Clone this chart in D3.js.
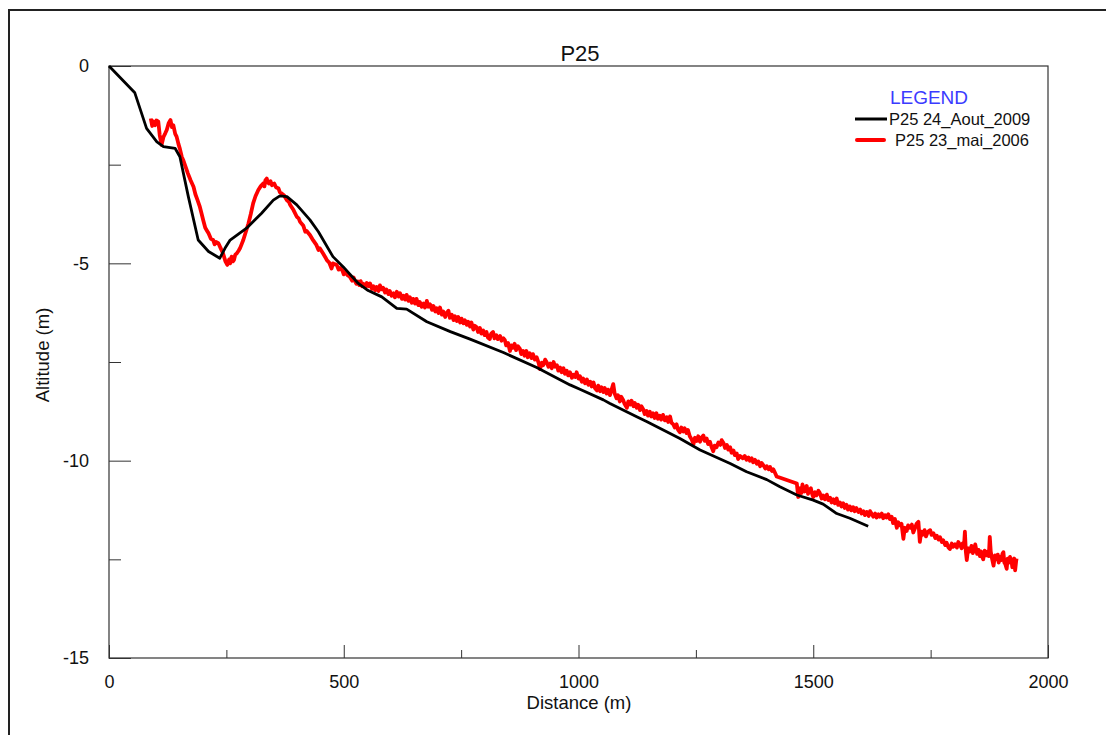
<!DOCTYPE html>
<html>
<head>
<meta charset="utf-8">
<script src="https://cdn.jsdelivr.net/npm/d3@7/dist/d3.min.js"></script>
<style>
  html, body { margin: 0; padding: 0; background: #fff; }
  svg { display: block; font-family: "Liberation Sans", Arial, sans-serif; }
</style>
</head>
<body>
<svg id="chart" width="1106" height="735"></svg>
<script>
// ---- Data ----
const chartTitle = "P25";
const xLabel = "Distance (m)";
const yLabel = "Altitude (m)";
const legendTitle = "LEGEND";
const xTicks = [0, 500, 1000, 1500, 2000];
const xMinorTicks = [250, 750, 1250, 1750];
const yTicks = [0, -5, -10, -15];
const yMinorTicks = [-2.5, -7.5, -12.5];
const seriesNames = ["P25 24_Aout_2009", "P25 23_mai_2006"];

// P25 24_Aout_2009 : [distance, altitude]
const aout2009 = [
  [0, 0], [55, -0.68], [80, -1.58], [102, -1.92], [116, -2.04], [141, -2.09],
  [151, -2.30], [169, -3.31], [190, -4.41], [212, -4.70], [236, -4.87],
  [247, -4.62], [258, -4.41], [293, -4.11], [325, -3.73], [350, -3.40],
  [364, -3.29], [379, -3.31], [400, -3.52], [428, -3.90], [446, -4.20],
  [477, -4.83], [499, -5.09], [531, -5.51], [552, -5.69], [581, -5.85],
  [613, -6.14], [634, -6.16], [677, -6.48], [727, -6.73], [769, -6.92],
  [840, -7.26], [911, -7.64], [982, -8.08], [1003, -8.19], [1053, -8.46],
  [1067, -8.55], [1124, -8.89], [1145, -9.01], [1216, -9.44], [1259, -9.73],
  [1323, -10.07], [1358, -10.28], [1401, -10.48], [1429, -10.66], [1465, -10.87],
  [1500, -11.0], [1521, -11.10], [1550, -11.34], [1578, -11.46], [1617, -11.66]
];

// P25 23_mai_2006 : [distance, altitude]
const mai2006 = [
  [89, -1.33], [92, -1.52], [94, -1.40], [98, -1.50], [101, -1.38], [105, -1.41], [108, -1.75],
  [112, -2.00], [116, -1.80], [120, -1.70], [123, -1.62], [127, -1.45], [131, -1.37], [134, -1.55],
  [137, -1.50], [141, -1.72], [144, -1.79], [148, -1.98], [151, -2.10], [155, -2.30], [158, -2.38],
  [163, -2.55], [168, -2.72], [174, -2.90], [180, -3.06], [184, -3.25], [188, -3.38], [193, -3.55],
  [197, -3.73], [201, -3.92], [205, -4.10], [209, -4.18], [212, -4.24], [217, -4.38],
  [222, -4.41], [225, -4.52], [228, -4.46], [233, -4.49], [238, -4.62], [243, -4.75], [248, -4.95],
  [252, -5.04], [256, -4.90], [258, -5.00], [261, -4.83], [264, -4.95], [266, -4.92], [269, -4.78],
  [272, -4.75], [276, -4.68], [279, -4.62], [283, -4.50], [286, -4.41], [291, -4.22], [297, -3.99],
  [302, -3.75], [307, -3.48], [312, -3.30], [318, -3.14], [323, -3.05], [329, -2.97], [331, -3.05],
  [333, -2.90], [336, -2.85], [338, -2.95], [341, -2.98], [344, -2.92], [347, -3.02], [352, -2.98],
  [356, -3.08], [361, -3.10], [364, -3.20], [367, -3.22], [373, -3.28], [379, -3.40], [383, -3.44],
  [386, -3.52], [393, -3.65], [400, -3.82], [404, -3.86], [407, -3.95], [414, -4.05], [418, -4.20],
  [421, -4.18], [428, -4.28], [435, -4.42], [442, -4.54], [446, -4.66], [449, -4.62], [456, -4.75],
  [461, -4.85], [464, -4.92], [469, -4.98], [474, -5.13], [477, -5.00], [480, -5.02],
  [485, -5.04], [489, -5.16], [492, -5.12], [497, -5.18], [500, -5.28], [503, -5.22], [508, -5.30],
  [513, -5.34], [518, -5.44], [521, -5.36], [524, -5.45], [527, -5.52], [530, -5.46], [533, -5.55],
  [536, -5.45], [539, -5.58], [542, -5.52], [546, -5.60], [549, -5.50], [553, -5.58],
  [556, -5.51], [560, -5.65], [563, -5.58], [567, -5.68], [570, -5.60], [574, -5.70], [577, -5.56],
  [581, -5.66], [584, -5.62], [588, -5.74], [591, -5.66], [595, -5.78], [598, -5.70], [602, -5.82],
  [606, -5.76], [609, -5.86], [613, -5.72], [617, -5.84], [620, -5.76], [624, -5.90], [627, -5.82],
  [631, -5.92], [634, -5.80], [638, -5.95], [641, -5.86], [645, -6.00], [648, -5.90], [652, -6.02],
  [655, -5.90], [659, -6.06], [662, -5.98], [666, -6.10], [670, -6.02], [673, -6.12], [677, -5.95],
  [680, -6.10], [684, -6.04], [688, -6.18], [691, -6.08], [695, -6.22], [698, -6.14], [702, -6.26],
  [705, -6.12], [709, -6.30], [712, -6.22], [716, -6.36], [719, -6.26], [723, -6.20], [726, -6.38],
  [730, -6.30], [734, -6.44], [737, -6.34], [741, -6.46], [744, -6.36], [748, -6.50], [751, -6.40],
  [755, -6.52], [758, -6.44], [762, -6.56], [765, -6.48], [769, -6.60], [772, -6.50], [776, -6.68],
  [779, -6.58], [783, -6.62], [786, -6.74], [790, -6.64], [793, -6.78], [797, -6.70], [800, -6.82],
  [804, -6.74], [807, -6.88], [811, -6.92], [814, -6.78], [818, -6.74], [821, -6.90], [825, -6.82],
  [828, -6.92], [833, -6.84], [836, -6.96], [840, -6.90], [843, -6.94], [846, -7.08], [850, -7.02],
  [854, -7.22], [857, -7.08], [860, -7.14], [864, -7.04], [867, -7.20], [871, -7.10], [875, -7.16],
  [878, -7.30], [882, -7.22], [885, -7.34], [889, -7.22], [892, -7.38], [896, -7.28], [900, -7.40],
  [903, -7.30], [907, -7.44], [911, -7.38], [915, -7.52], [918, -7.68], [922, -7.52], [925, -7.58],
  [929, -7.44], [932, -7.50], [936, -7.62], [940, -7.54], [943, -7.66], [947, -7.50], [950, -7.62],
  [954, -7.58], [957, -7.72], [961, -7.64], [964, -7.76], [968, -7.66], [971, -7.80], [975, -7.72],
  [978, -7.84], [982, -7.76], [986, -7.90], [989, -7.82], [993, -7.88], [996, -7.76], [1000, -7.92],
  [1003, -7.86], [1007, -8.00], [1010, -7.92], [1014, -8.04], [1018, -7.94], [1021, -8.08],
  [1025, -8.00], [1028, -8.12], [1032, -8.02], [1035, -8.16], [1039, -8.22], [1042, -8.10],
  [1046, -8.24], [1049, -8.14], [1053, -8.26], [1056, -8.16], [1060, -8.30], [1063, -8.20],
  [1067, -8.34], [1070, -8.22], [1074, -8.06], [1077, -8.30], [1081, -8.42], [1084, -8.34],
  [1088, -8.50], [1091, -8.38], [1095, -8.46], [1098, -8.56], [1103, -8.66], [1106, -8.50],
  [1110, -8.58], [1113, -8.48], [1117, -8.62], [1120, -8.54], [1124, -8.66], [1127, -8.58],
  [1131, -8.72], [1134, -8.62], [1138, -8.70], [1141, -8.82], [1145, -8.74], [1148, -8.86],
  [1152, -8.76], [1155, -8.88], [1159, -8.80], [1162, -8.92], [1166, -8.80], [1169, -8.94],
  [1173, -8.86], [1176, -8.96], [1180, -8.84], [1184, -8.98], [1188, -8.90], [1191, -9.02],
  [1195, -8.88], [1198, -9.04], [1202, -9.08], [1205, -9.16], [1209, -9.08], [1212, -9.22],
  [1216, -9.28], [1219, -9.16], [1223, -9.26], [1226, -9.18], [1230, -9.30], [1233, -9.22],
  [1237, -9.38], [1241, -9.46], [1245, -9.58], [1248, -9.42], [1252, -9.50], [1255, -9.38],
  [1259, -9.52], [1262, -9.42], [1266, -9.36], [1269, -9.50], [1273, -9.44], [1276, -9.58],
  [1280, -9.52], [1283, -9.64], [1287, -9.76], [1290, -9.62], [1294, -9.66], [1298, -9.54],
  [1302, -9.60], [1305, -9.48], [1309, -9.56], [1312, -9.68], [1316, -9.60], [1319, -9.72],
  [1323, -9.66], [1326, -9.80], [1330, -9.74], [1333, -9.86], [1337, -9.82], [1340, -9.96],
  [1344, -9.88], [1350, -9.94], [1354, -9.88], [1358, -9.98], [1362, -9.92], [1365, -10.00],
  [1369, -9.94], [1372, -10.04], [1376, -9.98], [1380, -10.08], [1383, -10.02], [1387, -10.14],
  [1390, -10.06], [1394, -10.12], [1398, -10.20], [1401, -10.14], [1405, -10.22], [1408, -10.16],
  [1412, -10.26], [1415, -10.22], [1419, -10.32], [1422, -10.40], [1465, -10.58],
  [1468, -10.92], [1472, -10.70], [1475, -10.82], [1477, -10.60], [1480, -10.74], [1482, -10.78],
  [1486, -10.64], [1489, -10.84], [1491, -10.76], [1495, -10.70], [1498, -10.86], [1500, -10.92],
  [1504, -10.80], [1507, -10.88], [1511, -10.76], [1514, -10.82], [1518, -10.96], [1521, -10.88],
  [1525, -10.98], [1529, -10.86], [1532, -11.00], [1536, -10.94], [1539, -11.06], [1543, -10.98],
  [1546, -11.08], [1550, -10.96], [1553, -11.12], [1557, -11.06], [1560, -11.16], [1564, -11.08],
  [1567, -11.20], [1571, -11.12], [1574, -11.24], [1578, -11.16], [1581, -11.26], [1585, -11.18],
  [1588, -11.28], [1592, -11.20], [1596, -11.30], [1600, -11.24], [1603, -11.34], [1607, -11.28],
  [1610, -11.38], [1614, -11.30], [1618, -11.40], [1621, -11.28], [1625, -11.36], [1628, -11.42],
  [1632, -11.34], [1635, -11.44], [1639, -11.36], [1642, -11.42], [1646, -11.34], [1649, -11.46],
  [1653, -11.38], [1656, -11.44], [1660, -11.36], [1663, -11.48], [1667, -11.42], [1670, -11.58],
  [1674, -11.48], [1678, -11.70], [1681, -11.56], [1685, -11.64], [1688, -11.60], [1692, -11.98],
  [1695, -11.70], [1699, -11.78], [1702, -11.64], [1706, -11.70], [1710, -11.62], [1713, -11.82],
  [1717, -11.70], [1720, -11.60], [1724, -11.55], [1727, -12.06], [1730, -11.80], [1733, -11.88],
  [1737, -11.76], [1740, -11.92], [1744, -11.80], [1749, -11.76], [1752, -11.88], [1756, -11.84],
  [1760, -11.96], [1763, -11.90], [1767, -12.00], [1770, -11.94], [1774, -12.06], [1777, -12.02],
  [1781, -12.14], [1784, -12.08], [1788, -12.20], [1791, -12.24], [1795, -12.10], [1798, -12.18],
  [1802, -12.12], [1806, -12.20], [1809, -12.06], [1813, -12.14], [1816, -12.22], [1818, -12.10],
  [1821, -12.18], [1823, -11.80], [1825, -12.30], [1827, -12.52], [1830, -12.22], [1834, -12.30],
  [1837, -12.16], [1840, -12.34], [1843, -12.22], [1845, -12.12], [1849, -12.36], [1852, -12.26],
  [1855, -12.42], [1857, -12.30], [1860, -12.44], [1862, -12.50], [1865, -12.28], [1868, -12.40],
  [1872, -12.30], [1874, -12.42], [1876, -11.93], [1878, -12.30], [1880, -12.44], [1884, -12.66],
  [1887, -12.40], [1890, -12.50], [1893, -12.38], [1895, -12.58], [1898, -12.44], [1900, -12.52],
  [1903, -12.36], [1905, -12.32], [1907, -12.58], [1909, -12.62], [1912, -12.74], [1914, -12.48],
  [1917, -12.58], [1919, -12.44], [1922, -12.52], [1924, -12.70], [1926, -12.60], [1928, -12.48],
  [1930, -12.78], [1932, -12.56], [1933, -12.48]
];

// ---- Layout ----
const plot = { left: 109, right: 1048, top: 66, bottom: 658 };
const svg = d3.select("#chart");
const FONT = "Liberation Sans, Arial, sans-serif";

// outer frame
svg.append("path")
  .attr("d", "M9,740 L9,10 L1110,10")
  .attr("fill", "none").attr("stroke", "#222").attr("stroke-width", 2);

const x = d3.scaleLinear().domain([0, 2000]).range([plot.left, plot.right]);
const y = d3.scaleLinear().domain([0, -15]).range([plot.top, plot.bottom]);

// plot box
svg.append("rect")
  .attr("x", plot.left).attr("y", plot.top)
  .attr("width", plot.right - plot.left).attr("height", plot.bottom - plot.top)
  .attr("fill", "none").attr("stroke", "#333").attr("stroke-width", 1.2);

function styleAxis(g) {
  g.select(".domain").remove();
  g.selectAll("line").attr("stroke", "#333");
  g.selectAll("text").attr("font-size", null).style("font-size", "18px")
    .style("font-family", FONT).attr("fill", "#111");
}
const plainFormat = d => String(d);

// x axis (ticks inward)
const xAxis = svg.append("g").attr("transform", `translate(0,${plot.bottom})`);
xAxis.call(d3.axisBottom(x).tickValues(xTicks).tickSizeInner(-13).tickSizeOuter(0).tickPadding(17).tickFormat(plainFormat));
styleAxis(xAxis);
const xMinor = svg.append("g").attr("transform", `translate(0,${plot.bottom})`);
xMinor.call(d3.axisBottom(x).tickValues(xMinorTicks).tickSizeInner(-8).tickSizeOuter(0).tickFormat(""));
styleAxis(xMinor);

// y axis (ticks inward)
const yAxis = svg.append("g").attr("transform", `translate(${plot.left},0)`);
yAxis.call(d3.axisLeft(y).tickValues(yTicks).tickSizeInner(-22).tickSizeOuter(0).tickPadding(20).tickFormat(plainFormat));
styleAxis(yAxis);
const yMinor = svg.append("g").attr("transform", `translate(${plot.left},0)`);
yMinor.call(d3.axisLeft(y).tickValues(yMinorTicks).tickSizeInner(-12).tickSizeOuter(0).tickFormat(""));
styleAxis(yMinor);

// titles
svg.append("text").attr("x", 580).attr("y", 61).attr("text-anchor", "middle")
  .style("font-size", "22px").attr("fill", "#111").text(chartTitle);
svg.append("text").attr("x", 579).attr("y", 709).attr("text-anchor", "middle")
  .style("font-size", "18.5px").attr("fill", "#111").text(xLabel);
svg.append("text").attr("transform", "translate(49,355) rotate(-90)").attr("text-anchor", "middle")
  .style("font-size", "18.5px").attr("fill", "#111").text(yLabel);

// lines
const line = d3.line().x(d => x(d[0])).y(d => y(d[1]));
svg.append("path").datum(mai2006).attr("d", line)
  .attr("fill", "none").attr("stroke", "#ff0000").attr("stroke-width", 3.8).attr("stroke-linejoin", "round");
svg.append("path").datum(aout2009).attr("d", line)
  .attr("fill", "none").attr("stroke", "#000").attr("stroke-width", 2.8).attr("stroke-linejoin", "round");

// legend
svg.append("text").attr("x", 929).attr("y", 104).attr("text-anchor", "middle")
  .style("font-size", "19px").attr("fill", "#3b3bff").text(legendTitle);
svg.append("line").attr("x1", 855).attr("x2", 887).attr("y1", 119).attr("y2", 119)
  .attr("stroke", "#000").attr("stroke-width", 3);
svg.append("text").attr("x", 889).attr("y", 125).style("font-size", "16.5px").attr("fill", "#111").text(seriesNames[0]);
svg.append("line").attr("x1", 857).attr("x2", 884).attr("y1", 140).attr("y2", 140)
  .attr("stroke", "#ff0000").attr("stroke-width", 4).attr("stroke-linecap", "round");
svg.append("text").attr("x", 895).attr("y", 146).style("font-size", "16.5px").attr("fill", "#111").text(seriesNames[1]);
</script>
</body>
</html>
